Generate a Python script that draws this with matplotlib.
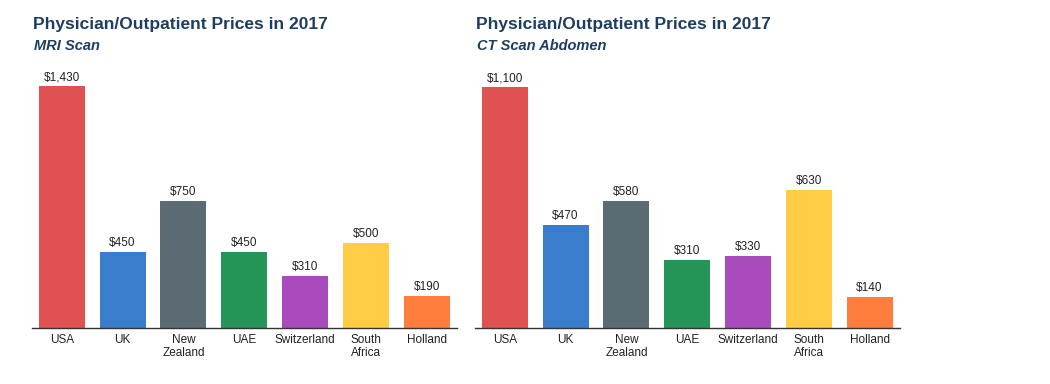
import matplotlib
matplotlib.use("Agg")
import matplotlib.pyplot as plt

plt.rcParams["font.family"] = ["Liberation Sans", "DejaVu Sans"]

countries = ["USA", "UK", "New\nZealand", "UAE", "Switzerland", "South\nAfrica", "Holland"]
mri_prices = [1430, 450, 750, 450, 310, 500, 190]
ct_prices = [1100, 470, 580, 310, 330, 630, 140]
colors = ["#E05252", "#3A7DCC", "#5B6B73", "#249556", "#A94BBD", "#FFCC44", "#FF7E3E"]

title = "Physician/Outpatient Prices in 2017"
subtitles = ["MRI Scan", "CT Scan Abdomen"]

W, H = 1050, 384
fig = plt.figure(figsize=(W / 100, H / 100), dpi=100)
fig.patch.set_facecolor("white")

navy = "#1D3E62"
panels = [
    (32, mri_prices, subtitles[0], 86),
    (475, ct_prices, subtitles[1], 87),
]
for left_px, vals, sub, top_px in panels:
    base_px = 328
    ax = fig.add_axes([left_px / W, (H - base_px) / H, 425 / W, (base_px - top_px) / H])
    x = range(len(countries))
    ax.bar(x, vals, width=0.755, color=colors, zorder=2)
    ax.set_xlim(-0.49, 6.5)
    ax.set_ylim(0, max(vals))
    for xi, v in zip(x, vals):
        ax.text(xi, v + max(vals) * 0.012, f"${v:,}", ha="center", va="bottom",
                fontsize=8.5, color="#222222", clip_on=False)
    ax.set_xticks(list(x))
    ax.set_xticklabels(countries, fontsize=8.5, color="#222222", linespacing=1.15)
    ax.tick_params(axis="x", length=0, pad=4)
    ax.set_yticks([])
    for s in ["top", "right", "left"]:
        ax.spines[s].set_visible(False)
    ax.spines["bottom"].set_color("#333333")
    ax.spines["bottom"].set_linewidth(1.0)
    ax.spines["bottom"].set_zorder(3)
    fig.text((left_px + 1) / W, 1 - 25 / H, title, fontsize=12.5, fontweight="bold",
             color=navy, ha="left", va="center")
    fig.text((left_px + 2) / W, 1 - 46 / H, sub, fontsize=10.5, fontweight="bold",
             style="italic", color=navy, ha="left", va="center")

fig.savefig("out.png", dpi=100, facecolor="white")
